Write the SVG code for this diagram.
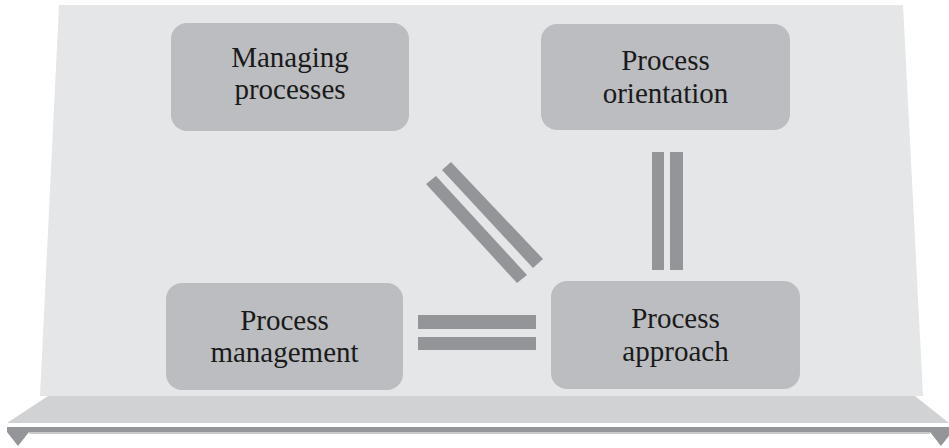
<svg xmlns="http://www.w3.org/2000/svg" width="949" height="448" viewBox="0 0 949 448">
  <style>
    .box { fill: #bcbdc0; }
    .bar { fill: #939598; }
    .label { font-size: 29px; fill: #1a1a1a; text-anchor: middle; }
  </style>
  <rect width="949" height="448" fill="#ffffff"/>

  <!-- stage: back panel, floor and rail -->
  <g id="stage">
    <polygon points="59,5 903,5 923,396 40,396" fill="#e5e6e7"/>
    <polygon points="48,396 915,396 949,423 7,423" fill="#d1d2d4"/>
    <rect x="7" y="427" width="942" height="5" fill="#939598"/>
    <rect x="29" y="432" width="901" height="2" fill="#c9cacc"/>
    <polygon points="7,427 7,432 18,446 29,432" fill="#939598"/>
    <polygon points="930,432 941,446 952,432" fill="#939598"/>
  </g>

  <!-- connectors: pairs of parallel bars -->
  <g id="connectors">
    <g id="link-managing-approach" class="bar">
      <polygon points="442,170 451,162 543,259 533,268"/>
      <polygon points="426,184 436,176 527,275 517,283"/>
    </g>
    <g id="link-orientation-approach" class="bar">
      <rect x="652" y="152" width="12" height="118"/>
      <rect x="670" y="152" width="13" height="118"/>
    </g>
    <g id="link-management-approach" class="bar">
      <rect x="418" y="315" width="118" height="14"/>
      <rect x="418" y="337" width="118" height="13"/>
    </g>
  </g>

  <g font-family="'Liberation Serif', 'DejaVu Serif', serif">
    <g id="managing-processes">
      <rect class="box" x="171" y="23" width="238" height="108" rx="16"/>
      <text class="label" x="290" y="67">Managing</text>
      <text class="label" x="290" y="99">processes</text>
    </g>

    <g id="process-orientation">
      <rect class="box" x="541" y="24" width="249" height="106" rx="16"/>
      <text class="label" x="665.5" y="70">Process</text>
      <text class="label" x="665.5" y="103">orientation</text>
    </g>

    <g id="process-management">
      <rect class="box" x="166" y="283" width="237" height="107" rx="16"/>
      <text class="label" x="284.5" y="330">Process</text>
      <text class="label" x="284.5" y="362">management</text>
    </g>

    <g id="process-approach">
      <rect class="box" x="551" y="281" width="249" height="108" rx="16"/>
      <text class="label" x="675.5" y="328">Process</text>
      <text class="label" x="675.5" y="361">approach</text>
    </g>
  </g>
</svg>
